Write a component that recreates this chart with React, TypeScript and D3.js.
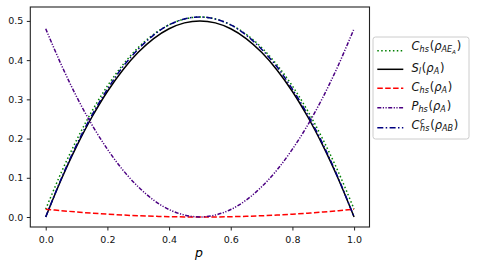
import React, { useEffect, useRef } from 'react';
import * as d3 from 'd3';

// p grid and series
const pValues = [0, 0.05, 0.1, 0.15, 0.2, 0.25, 0.3, 0.35, 0.4, 0.45, 0.5,
  0.55, 0.6, 0.65, 0.7, 0.75, 0.8, 0.85, 0.9, 0.95, 1];
const chsAEA = [0.02, 0.113, 0.196, 0.27, 0.334, 0.388, 0.432, 0.466, 0.49, 0.505, 0.51,
  0.505, 0.49, 0.466, 0.432, 0.388, 0.334, 0.27, 0.196, 0.113, 0.02];
const slA = [0, 0.095, 0.18, 0.255, 0.32, 0.375, 0.42, 0.455, 0.48, 0.495, 0.5,
  0.495, 0.48, 0.455, 0.42, 0.375, 0.32, 0.255, 0.18, 0.095, 0];
const chsA = [0.02, 0.0162, 0.0128, 0.0098, 0.0072, 0.005, 0.0032, 0.0018, 0.0008, 0.0002, 0,
  0.0002, 0.0008, 0.0018, 0.0032, 0.005, 0.0072, 0.0098, 0.0128, 0.0162, 0.02];
const phsA = [0.48, 0.389, 0.307, 0.235, 0.173, 0.12, 0.077, 0.043, 0.019, 0.005, 0,
  0.005, 0.019, 0.043, 0.077, 0.12, 0.173, 0.235, 0.307, 0.389, 0.48];
const chsAB = [0, 0.097, 0.184, 0.26, 0.326, 0.383, 0.428, 0.464, 0.49, 0.505, 0.51,
  0.505, 0.49, 0.464, 0.428, 0.383, 0.326, 0.26, 0.184, 0.097, 0];

const xTicks = [0, 0.2, 0.4, 0.6, 0.8, 1.0];
const yTicks = [0, 0.1, 0.2, 0.3, 0.4, 0.5];

type Seg = { t: string; lvl: number; up?: boolean; dx?: number };

const series = [
  { values: chsAEA, color: 'green', dash: '1.5,2.4',
    label: [{ t: 'C', lvl: 0 }, { t: 'hs', lvl: -1 }, { t: '(', lvl: 0, up: true, dx: 0.8 }, { t: 'ρ', lvl: 0 },
      { t: 'AE', lvl: -1 }, { t: 'A', lvl: -2 }, { t: ')', lvl: 0, up: true, dx: 0.8 }] as Seg[] },
  { values: slA, color: 'black', dash: null,
    label: [{ t: 'S', lvl: 0 }, { t: 'l', lvl: -1 }, { t: '(', lvl: 0, up: true, dx: 0.8 }, { t: 'ρ', lvl: 0 },
      { t: 'A', lvl: -1 }, { t: ')', lvl: 0, up: true, dx: 0.8 }] as Seg[] },
  { values: chsA, color: 'red', dash: '5.5,2.4',
    label: [{ t: 'C', lvl: 0 }, { t: 'hs', lvl: -1 }, { t: '(', lvl: 0, up: true, dx: 0.8 }, { t: 'ρ', lvl: 0 },
      { t: 'A', lvl: -1 }, { t: ')', lvl: 0, up: true, dx: 0.8 }] as Seg[] },
  { values: phsA, color: 'indigo', dash: '4,1.5,1.2,1.5,1.2,1.5',
    label: [{ t: 'P', lvl: 0 }, { t: 'hs', lvl: -1 }, { t: '(', lvl: 0, up: true, dx: 0.8 }, { t: 'ρ', lvl: 0 },
      { t: 'A', lvl: -1 }, { t: ')', lvl: 0, up: true, dx: 0.8 }] as Seg[] },
  { values: chsAB, color: 'navy', dash: '6,2.4,1.5,2.4',
    label: [{ t: 'C', lvl: 0 }, { t: 'c', lvl: 1, dx: 0.5 }, { t: 'hs', lvl: -1, dx: -4.4 }, { t: '(', lvl: 0, up: true, dx: 0.8 },
      { t: 'ρ', lvl: 0 }, { t: 'AB', lvl: -1 }, { t: ')', lvl: 0, up: true, dx: 0.8 }] as Seg[] },
];

const legendRows = [50.7, 69.3, 88.3, 107.7, 127.7];
const baseOffsets = [-1.2, 2.2, 2.2, 2.2, 1.2];

const App = () => {
  const ref = useRef<SVGSVGElement>(null);

  useEffect(() => {
    const svg = d3.select(ref.current);
    svg.selectAll('*').remove();

    const left = 30.3, right = 369.5, top = 7, bottom = 227;

    const x = d3.scaleLinear().domain([-0.05, 1.05]).range([left, right]);
    const y = d3.scaleLinear().domain([-0.0255, 0.5355]).range([bottom, top]);

    const plot = svg.append('g');

    const line = d3.line<number>()
      .x((d, i) => x(pValues[i]))
      .y(d => y(d))
      .curve(d3.curveCatmullRom);

    series.forEach(s => {
      plot.append('path')
        .attr('d', line(s.values))
        .attr('fill', 'none')
        .attr('stroke', s.color)
        .attr('stroke-width', 1.5)
        .attr('stroke-dasharray', s.dash);
    });

    // axes frame
    svg.append('rect')
      .attr('x', left).attr('y', top)
      .attr('width', right - left).attr('height', bottom - top)
      .attr('fill', 'none').attr('stroke', '#222').attr('stroke-width', 1.1);

    const xAxis = svg.append('g')
      .attr('transform', `translate(0,${bottom})`)
      .call(d3.axisBottom(x).tickValues(xTicks).tickFormat(d3.format('.1f')).tickSize(3.5).tickPadding(6));
    const yAxis = svg.append('g')
      .attr('transform', `translate(${left},0)`)
      .call(d3.axisLeft(y).tickValues(yTicks).tickFormat(d3.format('.1f')).tickSize(3.5).tickPadding(3.5));
    [xAxis, yAxis].forEach(a => {
      a.select('.domain').remove();
      a.selectAll('text').attr('font-family', 'DejaVu Sans').attr('font-size', 9.5).attr('fill', '#111');
      a.selectAll('line').attr('stroke', '#222');
    });

    svg.append('text')
      .attr('x', 199).attr('y', 257)
      .attr('text-anchor', 'middle')
      .attr('font-family', 'DejaVu Sans').attr('font-style', 'italic').attr('font-size', 12.5)
      .text('p');

    // legend
    const lg = svg.append('g');
    lg.append('rect')
      .attr('x', 373).attr('y', 37).attr('width', 96).attr('height', 102).attr('rx', 2.5)
      .attr('fill', 'white').attr('fill-opacity', 0.8)
      .attr('stroke', '#cccccc').attr('stroke-width', 1);

    const fs = 11.5;
    series.forEach((s, i) => {
      const cy = legendRows[i];
      lg.append('line')
        .attr('x1', 377.3).attr('x2', 403.3).attr('y1', cy).attr('y2', cy)
        .attr('stroke', s.color).attr('stroke-width', 1.5)
        .attr('stroke-dasharray', s.dash);
      const base = cy + baseOffsets[i];
      const txt = lg.append('text')
        .attr('x', 411.5).attr('y', base)
        .attr('font-family', 'DejaVu Sans').attr('fill', '#111');
      s.label.forEach(seg => {
        const size = seg.lvl === 0 ? fs : seg.lvl === -2 ? fs * 0.49 : fs * 0.7;
        const shift = seg.lvl === 0 ? 0 : seg.lvl === 1 ? -4.6 : seg.lvl === -1 ? 2.3 : 4.2;
        txt.append('tspan')
          .attr('y', base + shift)
          .attr('dx', seg.dx ?? null)
          .attr('font-size', size)
          .attr('font-style', seg.up ? 'normal' : 'italic')
          .text(seg.t);
      });
    });
  }, []);

  return (
    <svg ref={ref} width={477} height={268}
      style={{ position: 'absolute', left: 0, top: 0, background: 'white' }} />
  );
};

export default App;
